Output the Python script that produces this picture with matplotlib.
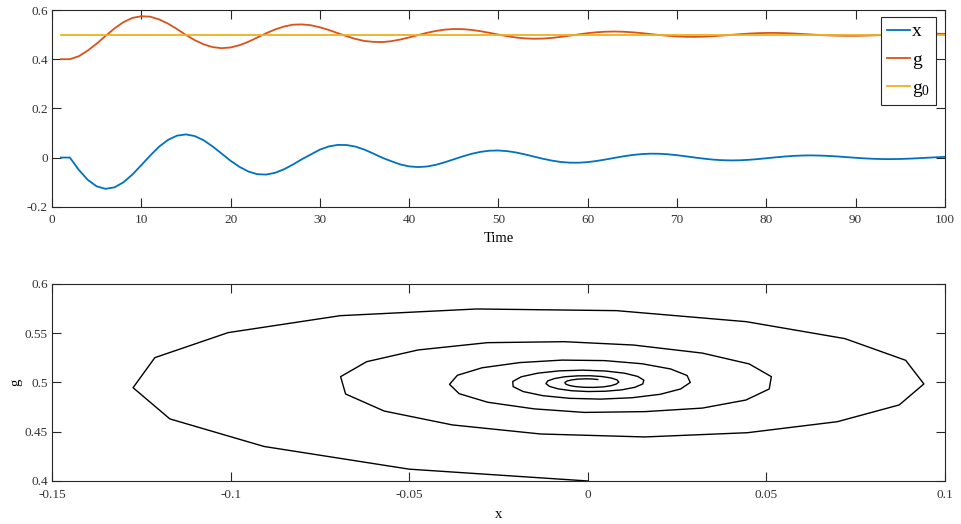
import matplotlib
matplotlib.use("Agg")
import matplotlib.pyplot as plt
import numpy as np

# ── data (t = 1..100) ──
t = list(range(1, 101))

x = [0.0, 0.0, -0.050, -0.0906, -0.1170, -0.1273, -0.1212, -0.1007, -0.0693, -0.0311,
     0.0081, 0.0444, 0.0720, 0.0890, 0.0941, 0.0872, 0.0699, 0.0447, 0.0160, -0.0132,
     -0.0379, -0.0570, -0.0678, -0.0692, -0.0619, -0.0475, -0.0281, -0.0066, 0.0128, 0.0321,
     0.0452, 0.0514, 0.0508, 0.0443, 0.0321, 0.0160, -0.0010, -0.0150, -0.0280, -0.0360,
     -0.0387, -0.0365, -0.0296, -0.0190, -0.0072, 0.0047, 0.0152, 0.0232, 0.0278, 0.0287,
     0.0260, 0.0203, 0.0124, 0.0036, -0.0051, -0.0126, -0.0181, -0.0209, -0.0210, -0.0186,
     -0.0139, -0.0079, -0.0013, 0.0050, 0.0103, 0.0140, 0.0157, 0.0154, 0.0132, 0.0095,
     0.0049, 0.0000, -0.0045, -0.0083, -0.0107, -0.0117, -0.0112, -0.0093, -0.0064, -0.0029,
     0.0007, 0.0040, 0.0066, 0.0082, 0.0087, 0.0080, 0.0065, 0.0043, 0.0016, -0.0010,
     -0.0034, -0.0051, -0.0062, -0.0064, -0.0058, -0.0045, -0.0028, -0.0008, 0.0011, 0.0028]

g = [0.400, 0.400, 0.412, 0.435, 0.463, 0.4947, 0.5252, 0.5506, 0.5678, 0.5746,
     0.5729, 0.5617, 0.5445, 0.5225, 0.4985, 0.4772, 0.4602, 0.4490, 0.4447, 0.4477,
     0.4569, 0.4710, 0.4883, 0.5059, 0.5211, 0.5330, 0.5404, 0.5414, 0.5380, 0.5298,
     0.5188, 0.5059, 0.4934, 0.4822, 0.4740, 0.4704, 0.4696, 0.4732, 0.4799, 0.4886,
     0.4981, 0.5073, 0.5149, 0.5202, 0.5227, 0.5222, 0.5190, 0.5137, 0.5071, 0.5000,
     0.4934, 0.4880, 0.4845, 0.4831, 0.4839, 0.4866, 0.4908, 0.4958, 0.5010, 0.5058,
     0.5095, 0.5118, 0.5125, 0.5116, 0.5094, 0.5061, 0.5023, 0.4985, 0.4951, 0.4925,
     0.4911, 0.4908, 0.4916, 0.4935, 0.4960, 0.4988, 0.5016, 0.5040, 0.5058, 0.5067,
     0.5068, 0.5060, 0.5045, 0.5026, 0.5004, 0.4984, 0.4967, 0.4955, 0.4950, 0.4951,
     0.4958, 0.4969, 0.4984, 0.5000, 0.5015, 0.5026, 0.5034, 0.5037, 0.5036, 0.5030]

g0 = [0.5] * len(t)

top_xticks = [0, 10, 20, 30, 40, 50, 60, 70, 80, 90, 100]
top_yticks = [-0.2, 0, 0.2, 0.4, 0.6]
top_yticklabels = ["-0.2", "0", "0.2", "0.4", "0.6"]
bot_xticks = [-0.15, -0.1, -0.05, 0, 0.05, 0.1]
bot_xticklabels = ["-0.15", "-0.1", "-0.05", "0", "0.05", "0.1"]
bot_yticks = [0.4, 0.45, 0.5, 0.55, 0.6]
bot_yticklabels = ["0.4", "0.45", "0.5", "0.55", "0.6"]

# ── style (MATLAB-ish look) ──
plt.rcParams["font.family"] = ["Liberation Serif", "DejaVu Serif"]
plt.rcParams["mathtext.fontset"] = "custom"
plt.rcParams["mathtext.rm"] = "Liberation Serif"
plt.rcParams["mathtext.it"] = "Liberation Serif:italic"

AX_COLOR = "#262626"
C_X, C_G, C_G0 = "#0072BD", "#D95319", "#EDB120"


def style_axes(ax):
    for s in ax.spines.values():
        s.set_color(AX_COLOR)
        s.set_linewidth(0.8)
    ax.tick_params(direction="in", top=True, right=True, length=6.5, width=0.8,
                   colors=AX_COLOR, labelsize=9.5, labelcolor="#333333")
    ax.tick_params(axis="x", pad=5.5)
    ax.tick_params(axis="y", pad=3)


fig = plt.figure(figsize=(9.61, 5.24), dpi=100)

# top panel: time series
ax1 = fig.add_axes([0.0541, 0.6055, 0.9292, 0.3754])
ax1.plot(t, x, color=C_X, lw=1.3, label="x")
ax1.plot(t, g, color=C_G, lw=1.3, label="g")
ax1.plot(t, g0, color=C_G0, lw=1.3, label=r"g$_\mathrm{0}$")
ax1.set_xlim(0, 100)
ax1.set_ylim(-0.2, 0.6)
ax1.set_xticks(top_xticks)
ax1.set_yticks(top_yticks)
ax1.set_yticklabels(top_yticklabels)
ax1.set_xlabel("Time", fontsize=10.5, labelpad=4)
style_axes(ax1)
leg = ax1.legend(loc="upper right", bbox_to_anchor=(0.99, 0.965), fontsize=14,
                 handlelength=1.2, handletextpad=0.1, borderpad=0.3,
                 labelspacing=0.55, borderaxespad=0, fancybox=False, framealpha=1)
leg.get_frame().set_edgecolor(AX_COLOR)
leg.get_frame().set_linewidth(0.8)

# bottom panel: phase plot
ax2 = fig.add_axes([0.0541, 0.0821, 0.9292, 0.376])
ax2.plot(x[1:], g[1:], color="black", lw=1.0)
ax2.set_xlim(-0.15, 0.1)
ax2.set_ylim(0.4, 0.6)
ax2.set_xticks(bot_xticks)
ax2.set_xticklabels(bot_xticklabels)
ax2.set_yticks(bot_yticks)
ax2.set_yticklabels(bot_yticklabels)
ax2.set_xlabel("x", fontsize=10.5, labelpad=5)
ax2.set_ylabel("g", fontsize=10.5, labelpad=2)
style_axes(ax2)

fig.savefig("out.png", dpi=100, facecolor="white")
